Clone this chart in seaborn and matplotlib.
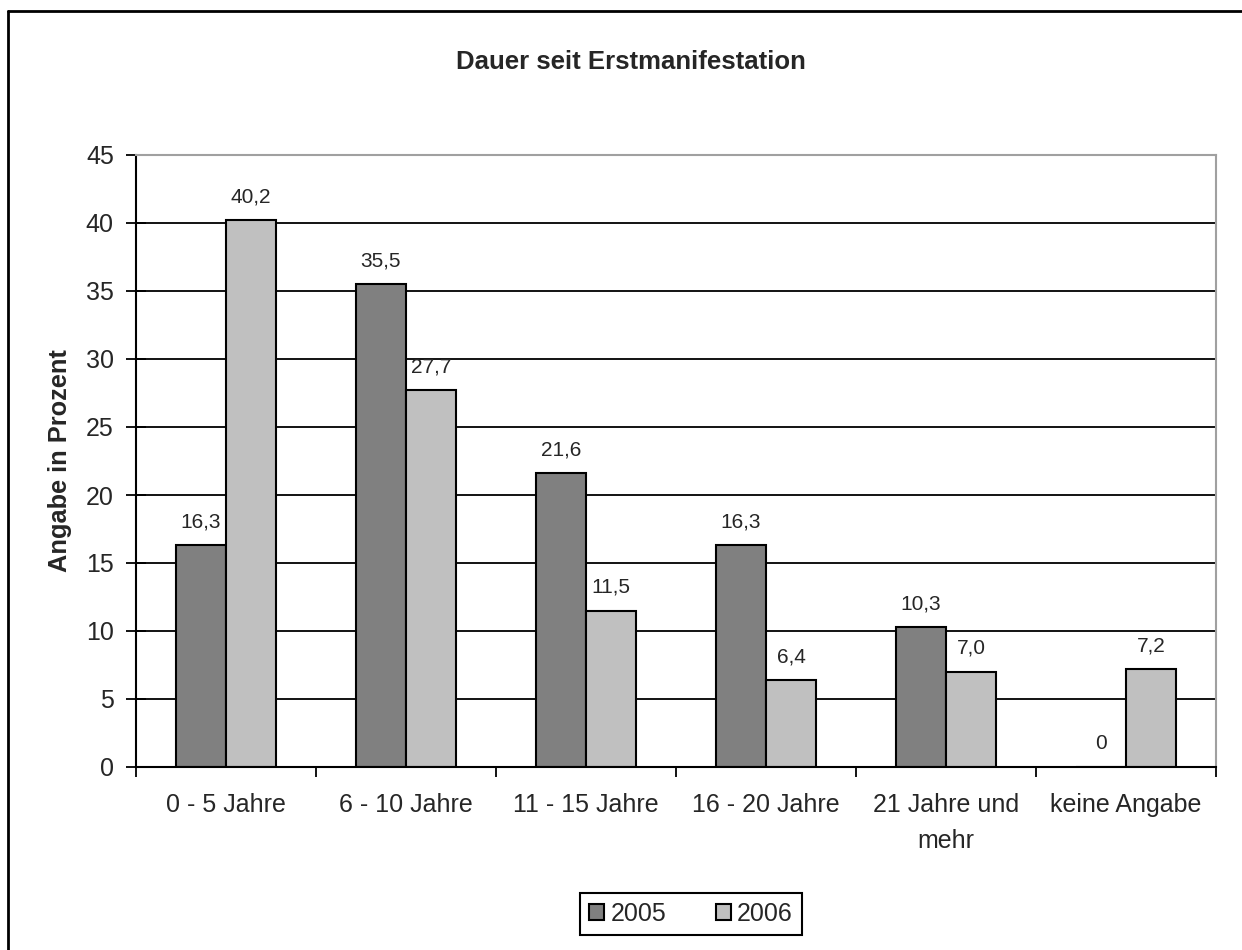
import matplotlib
matplotlib.use("Agg")
import matplotlib.pyplot as plt
from matplotlib.lines import Line2D
import numpy as np
import pandas as pd
import seaborn as sns

categories = ["0 - 5 Jahre", "6 - 10 Jahre", "11 - 15 Jahre", "16 - 20 Jahre",
              "21 Jahre und\nmehr", "keine Angabe"]
years = ["2005", "2006"]
values_2005 = [16.3, 35.5, 21.6, 16.3, 10.3, 0.0]
values_2006 = [40.2, 27.7, 11.5, 6.4, 7.0, 7.2]
colors = {"2005": "#808080", "2006": "#c0c0c0"}

df = pd.DataFrame({
    "Kategorie": categories * 2,
    "Jahr": ["2005"] * len(categories) + ["2006"] * len(categories),
    "Wert": values_2005 + values_2006,
})

sns.set_style("white")
plt.rcParams["font.family"] = ["Liberation Sans", "DejaVu Sans"]

fig = plt.figure(figsize=(12.42, 9.5), dpi=100)
ax = fig.add_axes([136 / 1242, 1 - 767 / 950, (1216 - 136) / 1242, (767 - 155) / 950])

sns.barplot(data=df, x="Kategorie", y="Wert", hue="Jahr", order=categories,
            hue_order=years, palette=colors, width=0.556, edgecolor="black",
            linewidth=1.5, saturation=1, ax=ax, legend=True)

def fmt(v):
    return "0" if v == 0 else f"{v:.1f}".replace(".", ",")

for cont, vals in zip(ax.containers, [values_2005, values_2006]):
    ax.bar_label(cont, labels=[fmt(v) for v in vals], padding=10, fontsize=15)

ax.set_ylim(0, 45)
ax.set_xlim(-0.5, len(categories) - 0.5)
ax.set_yticks(np.arange(0, 46, 5))
ax.yaxis.grid(True, color="black", linewidth=1.3)
ax.set_axisbelow(True)

ax.set_xticks(np.arange(-0.5, len(categories), 1.0))
ax.set_xticklabels([])
ax.set_xticks(np.arange(len(categories)), minor=True)
ax.set_xticklabels(categories, minor=True, fontsize=18, linespacing=1.6)
ax.tick_params(axis="x", which="major", direction="out", length=7, width=1.3, color="black")
ax.tick_params(axis="x", which="minor", length=0, pad=19)
ax.tick_params(axis="y", direction="inout", length=14, width=1.3, color="black",
               labelsize=18, pad=9)
ax.tick_params(bottom=True, left=True, which="major")

for s in ["left", "bottom"]:
    ax.spines[s].set_color("black")
    ax.spines[s].set_linewidth(1.5)
for s in ["top", "right"]:
    ax.spines[s].set_color("#a0a0a0")
    ax.spines[s].set_linewidth(1.5)

ax.set_xlabel("")
ax.set_ylabel("Angabe in Prozent", fontsize=18.3, fontweight="bold", labelpad=10)
fig.text(0.5077, 1 - 62 / 950, "Dauer seit Erstmanifestation", fontsize=18.5,
         fontweight="bold", ha="center", va="center")

ax.legend_.remove()
handles = [plt.Rectangle((0, 0), 1, 1, facecolor=colors[y], edgecolor="black", linewidth=1.5)
           for y in years]
leg = fig.legend(handles, years, loc="center", bbox_to_anchor=(691 / 1242, 1 - 914 / 950),
                 ncol=2, fontsize=18, frameon=True, fancybox=False, framealpha=1,
                 edgecolor="black", handlelength=0.6, handleheight=0.6,
                 handletextpad=0.25, columnspacing=2.0, borderpad=0.35, borderaxespad=0)
leg.get_frame().set_linewidth(1.5)

fig.add_artist(Line2D([8 / 1242, 8 / 1242], [0, 1 - 11 / 950], color="black", linewidth=2))
fig.add_artist(Line2D([8 / 1242, 1], [1 - 11 / 950, 1 - 11 / 950], color="black", linewidth=2))

fig.savefig("out.png", dpi=100, facecolor="white")
